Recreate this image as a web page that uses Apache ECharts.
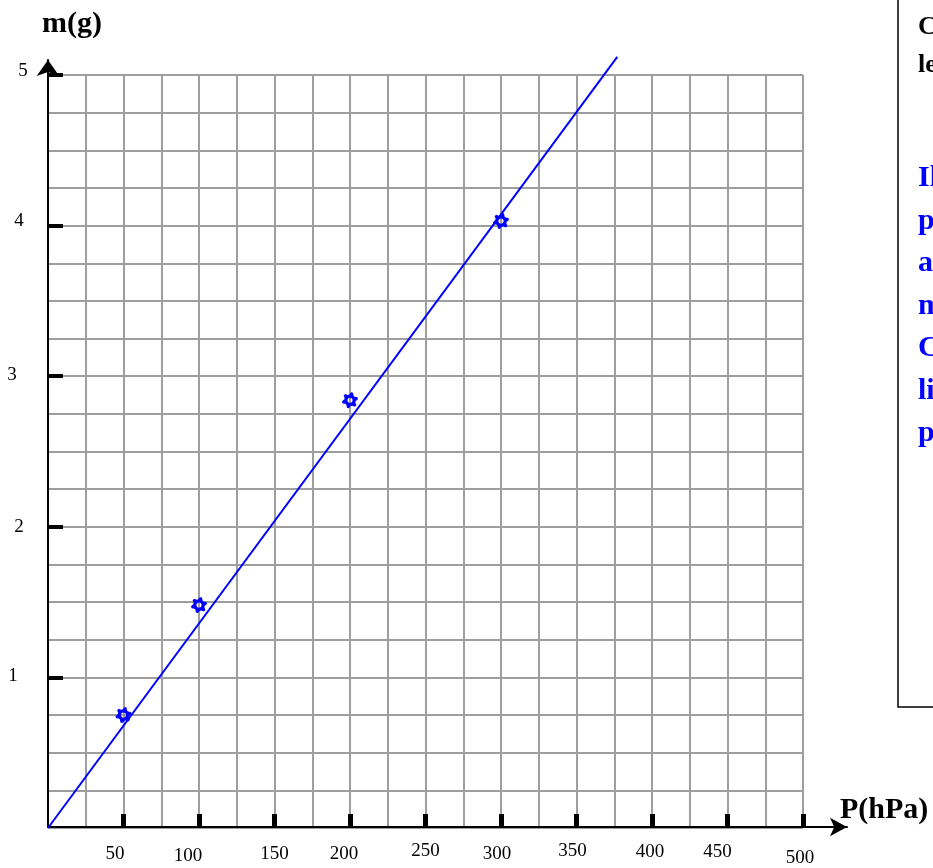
<!DOCTYPE html>
<html>
<head>
<meta charset="utf-8">
<script src="https://cdn.jsdelivr.net/npm/echarts@6/dist/echarts.min.js"></script>
<style>html,body{margin:0;padding:0;background:#fff;}#chart{width:933px;height:868px;}</style>
</head>
<body>
<div id="chart"></div>
<script>
// ---- data ----
const pressure = [50, 100, 200, 300];          // P (hPa)
const mass = [0.75, 1.48, 2.84, 4.03];          // m (g)
const fitP = [0, 377];                          // fitted line through origin
const fitM = [0, 5.12];
const xTickValues = [50, 100, 150, 200, 250, 300, 350, 400, 450, 500];
const yTickValues = [1, 2, 3, 4, 5];
const blueNote = ["Il s'agit de", "points presque", "alignés avec O.", "m est proportionnelle à P.", "C'est une", "ligne droite qui", "passe par l'origine."];
const blackNote = ["Construire", "le graphe m = f(P)"];

// ---- hand-drawn label nudges (layout only) ----
const xLabelNudge = {50:[-8.5,6.5],100:[-11,11.5],150:[0,6.5],200:[-6,6.5],250:[0,1.5],300:[-4,6.5],350:[-4,1.5],400:[-2,3],450:[-10,2.5],500:[-3,14.5]};
const yLabelNudge = {5:[5,-3.5],4:[1,-4.5],3:[-6,-1.5],2:[1,0],1:[-5,-1.5]};

const serif = '"Liberation Serif", "Times New Roman", serif';

function xRich() {
  const r = {};
  for (const k in xLabelNudge) {
    const [dx, dy] = xLabelNudge[k];
    r['x' + k] = {fontFamily: serif, fontSize: 19, lineHeight: 19, color: '#000',
      padding: [dy, dx < 0 ? -2 * dx : 0, 0, dx > 0 ? 2 * dx : 0]};
  }
  return r;
}
function yRich() {
  const r = {};
  for (const k in yLabelNudge) {
    const [dx, dy] = yLabelNudge[k];
    r['y' + k] = {fontFamily: serif, fontSize: 19, lineHeight: 19, color: '#000',
      padding: [dy > 0 ? 2 * dy : 0, dx < 0 ? -2 * dx : 0, dy < 0 ? -2 * dy : 0, dx > 0 ? 2 * dx : 0]};
  }
  return r;
}

// gear-like marker path (outer teeth clockwise, hole counter-clockwise)
function gearPath() {
  const pts = [];
  const teeth = 6, n = teeth * 4;
  for (let i = 0; i < n; i++) {
    const a = (i / n) * Math.PI * 2 - Math.PI / 2;
    const r = (i % 4 === 0 || i % 4 === 1) ? 1 : 0.72;
    pts.push([Math.cos(a + Math.PI / n) * r, Math.sin(a + Math.PI / n) * r]);
  }
  let d = 'M' + pts.map(p => (p[0] * 10 + 10).toFixed(2) + ' ' + (p[1] * 10 + 10).toFixed(2)).join('L') + 'Z';
  const hole = [];
  for (let i = 0; i < 16; i++) {
    const a = -(i / 16) * Math.PI * 2;
    hole.push([Math.cos(a) * 0.32, Math.sin(a) * 0.32]);
  }
  d += 'M' + hole.map(p => (p[0] * 10 + 10).toFixed(2) + ' ' + (p[1] * 10 + 10).toFixed(2)).join('L') + 'Z';
  return 'path://' + d;
}

const gridStyle = {color: '#9e9e9e', width: 2};

const option = {
  animation: false,
  backgroundColor: '#fff',
  grid: [
    {left: 48, top: 75, right: 130, bottom: 40},
    {left: 48, top: 60, right: 86, bottom: 41}
  ],
  xAxis: [
    {gridIndex: 0, type: 'value', position: 'bottom', min: 0, max: 500, interval: 25,
      axisLine: {show: false}, axisTick: {show: false}, axisLabel: {show: false},
      splitLine: {show: true, lineStyle: gridStyle}},
    {gridIndex: 0, type: 'value', position: 'bottom', min: 0, max: 500, interval: 50,
      axisLine: {show: false},
      axisTick: {show: true, inside: true, length: 14, customValues: xTickValues, lineStyle: {color: '#000', width: 5}},
      axisLabel: {show: true, margin: 13, customValues: xTickValues, verticalAlign: 'top',
        formatter: v => '{x' + v + '|' + v + '}', rich: xRich()},
      splitLine: {show: false}},
    {gridIndex: 1, type: 'value', position: 'bottom', min: 0, max: 1,
      axisLine: {show: true, onZero: false, symbol: ['none', 'arrow'], symbolSize: [14, 17], lineStyle: {color: '#000', width: 2}},
      axisTick: {show: false}, axisLabel: {show: false}, splitLine: {show: false},
      name: 'P(hPa)', nameLocation: 'end', nameGap: -7,
      nameTextStyle: {fontFamily: serif, fontWeight: 'bold', fontSize: 30, color: '#000', verticalAlign: 'bottom', lineHeight: 30, padding: [0, 0, 2, 0]}}
  ],
  yAxis: [
    {gridIndex: 0, type: 'value', position: 'left', min: 0, max: 5, interval: 0.25,
      axisLine: {show: false}, axisTick: {show: false}, axisLabel: {show: false},
      splitLine: {show: true, lineStyle: gridStyle}},
    {gridIndex: 0, type: 'value', position: 'left', min: 0, max: 5, interval: 1,
      axisLine: {show: false},
      axisTick: {show: true, inside: true, length: 15, customValues: yTickValues, lineStyle: {color: '#000', width: 4}},
      axisLabel: {show: true, margin: 30, align: 'center', customValues: yTickValues,
        formatter: v => '{y' + v + '|' + v + '}', rich: yRich()},
      splitLine: {show: false}},
    {gridIndex: 1, type: 'value', position: 'left', min: 0, max: 1,
      axisLine: {show: true, onZero: false, symbol: ['none', 'arrow'], symbolSize: [17, 16], lineStyle: {color: '#000', width: 2}},
      axisTick: {show: false}, axisLabel: {show: false}, splitLine: {show: false},
      name: 'm(g)', nameLocation: 'end', nameGap: 21,
      nameTextStyle: {fontFamily: serif, fontWeight: 'bold', fontSize: 30, color: '#000', padding: [0, 0, 0, 48]}}
  ],
  series: [
    {type: 'line', xAxisIndex: 0, yAxisIndex: 0, clip: false, showSymbol: false, silent: true,
      data: fitP.map((p, i) => [p, fitM[i]]),
      lineStyle: {color: '#0000ff', width: 2}, z: 3},
    {type: 'scatter', xAxisIndex: 0, yAxisIndex: 0, clip: false,
      data: pressure.map((p, i) => [p, mass[i]]),
      symbol: gearPath(), symbolSize: 16,
      itemStyle: {color: '#0000ff', opacity: 1}, z: 4}
  ],
  graphic: [
    {type: 'rect', shape: {x: 898, y: -10, width: 120, height: 717}, style: {fill: 'none', stroke: '#000', lineWidth: 1.5}},
    {type: 'text', x: 918, y: 8, style: {text: blackNote.join('\n'), font: 'bold 26px ' + serif, lineHeight: 38, fill: '#000'}},
    {type: 'text', x: 918, y: 157, style: {text: blueNote.join('\n'), font: 'bold 30px ' + serif, lineHeight: 42.5, fill: '#0000ff'}}
  ]
};

const chart = echarts.init(document.getElementById('chart'), null, {renderer: 'canvas'});
chart.setOption(option);
</script>
</body>
</html>
